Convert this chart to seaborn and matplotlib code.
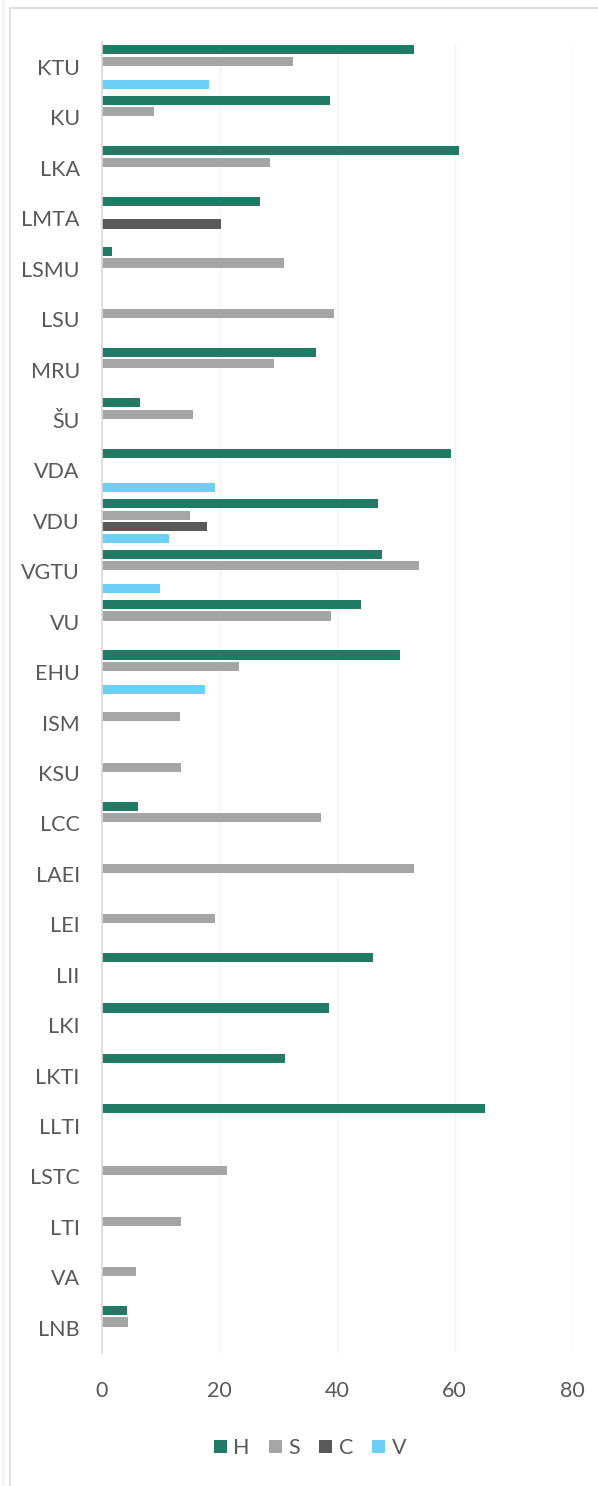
import numpy as np
import pandas as pd
import matplotlib
matplotlib.use("Agg")
import matplotlib.pyplot as plt
import seaborn as sns
from matplotlib.lines import Line2D

nan = np.nan
categories = ["KTU", "KU", "LKA", "LMTA", "LSMU", "LSU", "MRU", "ŠU", "VDA", "VDU",
              "VGTU", "VU", "EHU", "ISM", "KSU", "LCC", "LAEI", "LEI", "LII", "LKI",
              "LKTI", "LLTI", "LSTC", "LTI", "VA", "LNB"]
series_names = ["H", "S", "C", "V"]
H = [53.1, 38.8, 60.8, 26.9, 1.7, nan, 36.5, 6.5, 59.4, 46.9, 47.7, 44.1, 50.7, nan, nan,
     6.1, nan, nan, 46.1, 38.6, 31.1, 65.2, nan, nan, nan, 4.3]
S = [32.5, 8.8, 28.6, nan, 31.0, 39.5, 29.2, 15.5, nan, 14.9, 54.0, 39.0, 23.3, 13.2, 13.4,
     37.3, 53.1, 19.3, nan, nan, nan, nan, 21.2, 13.4, 5.8, 4.5]
C = [nan, nan, nan, 20.3, nan, nan, nan, nan, nan, 17.9, nan, nan, nan, nan, nan,
     nan, nan, nan, nan, nan, nan, nan, nan, nan, nan, nan]
V = [18.2, nan, nan, nan, nan, nan, nan, nan, 19.3, 11.4, 9.9, nan, 17.6, nan, nan,
     nan, nan, nan, nan, nan, nan, nan, nan, nan, nan, nan]
x_ticks = [0, 20, 40, 60, 80]

colors = ["#217a63", "#a5a5a5", "#595959", "#6dcff6"]

rows = []
for name, vals in zip(series_names, [H, S, C, V]):
    for cat, v in zip(categories, vals):
        rows.append({"cat": cat, "series": name, "val": v})
df = pd.DataFrame(rows)

sns.set_style("white")
plt.rcParams["font.family"] = ["Lato", "DejaVu Sans"]

W, Hh = 598, 1486
fig = plt.figure(figsize=(W / 100, Hh / 100), dpi=100)
ax = fig.add_axes([102 / W, 1 - 1353 / Hh, (572 - 102) / W, (1353 - 41.8) / Hh])

sns.barplot(data=df, y="cat", x="val", hue="series", order=categories,
            hue_order=series_names, palette=colors, orient="h",
            width=0.91, gap=0.2, linewidth=0, saturation=1, ax=ax,
            errorbar=None)

ax.set_xlim(0, 80)
ax.set_ylim(len(categories) - 0.5, -0.5)
ax.set_xticks(x_ticks)
ax.set_xticklabels([str(t) for t in x_ticks])
ax.set_xlabel("")
ax.set_ylabel("")
ax.xaxis.grid(True, color="#f3f3f3", linewidth=1)
ax.yaxis.grid(False)
ax.set_axisbelow(True)
for s in ["top", "right", "bottom"]:
    ax.spines[s].set_visible(False)
ax.spines["left"].set_color("#d9d9d9")
ax.spines["left"].set_linewidth(1.2)
ax.tick_params(axis="x", length=0, pad=20, labelsize=15.5, labelcolor="#595959")
ax.tick_params(axis="y", length=0, pad=16, labelsize=15.5, labelcolor="#595959")

leg = ax.get_legend()
handles = leg.legend_handles
leg.remove()
fig.legend(handles, series_names, loc="center", ncol=4,
           bbox_to_anchor=(310 / W, 1 - 1448 / Hh), frameon=False,
           handlelength=0.6, handleheight=0.6, handletextpad=0.3,
           columnspacing=0.9, fontsize=15.5, labelcolor="#595959")

fig.add_artist(Line2D([10 / W, 10 / W], [0, 1 - 8 / Hh], transform=fig.transFigure,
                      color="#d9d9d9", linewidth=1.2))
fig.add_artist(Line2D([10 / W, 1], [1 - 8 / Hh, 1 - 8 / Hh], transform=fig.transFigure,
                      color="#d9d9d9", linewidth=1.2))
fig.add_artist(Line2D([2.5 / W, 2.5 / W], [0, 1], transform=fig.transFigure,
                      color="#ededed", linewidth=1))

fig.savefig("out.png", dpi=100)
